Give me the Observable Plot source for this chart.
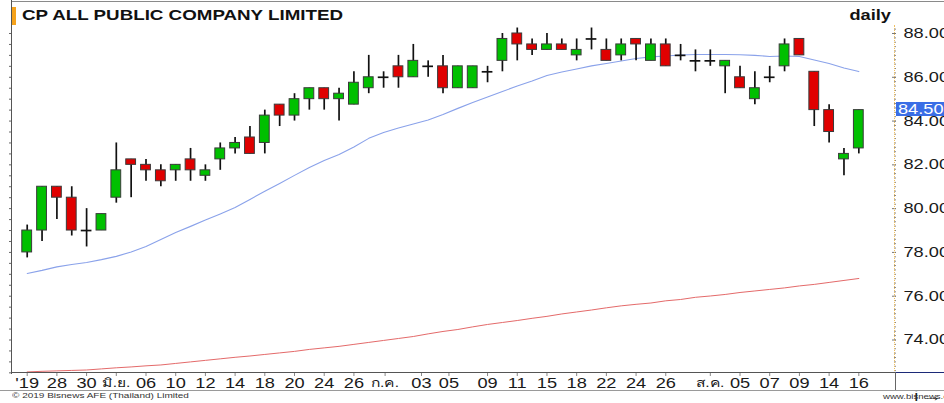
<!DOCTYPE html>
<html><head><meta charset="utf-8">
<script src="https://cdn.jsdelivr.net/npm/d3@7"></script>
<script src="https://cdn.jsdelivr.net/npm/@observablehq/plot@0.6"></script>
<style>
body{margin:0;background:#fff;}
#wrap{position:relative;width:944px;height:403px;overflow:hidden;font-family:"Liberation Sans",Arial,sans-serif;}
#wrap svg{position:absolute;left:0;top:0;}
.ov{position:absolute;white-space:nowrap;line-height:1;}
.ln{position:absolute;}
</style></head><body><div id="wrap"></div>
<script>
// ---- data ----
const dates = ["2019-05-24","2019-05-27","2019-05-28","2019-05-29","2019-05-30","2019-05-31",
"2019-06-04","2019-06-05","2019-06-06","2019-06-07","2019-06-10","2019-06-11","2019-06-12","2019-06-13","2019-06-14",
"2019-06-17","2019-06-18","2019-06-19","2019-06-20","2019-06-21","2019-06-24","2019-06-25","2019-06-26","2019-06-27","2019-06-28",
"2019-07-01","2019-07-02","2019-07-03","2019-07-04","2019-07-05","2019-07-08","2019-07-09","2019-07-10","2019-07-11","2019-07-12",
"2019-07-15","2019-07-17","2019-07-18","2019-07-19","2019-07-22","2019-07-23","2019-07-24","2019-07-25","2019-07-26","2019-07-30","2019-07-31",
"2019-08-01","2019-08-02","2019-08-05","2019-08-06","2019-08-07","2019-08-08","2019-08-09","2019-08-13","2019-08-14","2019-08-15","2019-08-16"];
const open  = [78.0,79.0,81.0,80.5,79.0,79.0,80.5,82.25,82.0,81.75,81.75,82.25,81.5,82.25,82.75,83.25,83.0,84.75,84.25,85.0,85.5,85.0,84.75,85.5,86.0,86.5,86.0,86.5,86.5,85.5,85.5,86.25,86.75,88.0,87.5,87.25,87.5,87.0,87.75,87.25,87.0,87.75,86.75,87.5,87.0,86.75,86.75,86.5,86.0,85.0,86.0,86.5,87.75,86.25,84.5,82.25,82.75];
const high  = [79.25,81.0,81.0,81.0,80.0,79.75,83.0,82.25,82.25,82.0,82.0,82.75,82.0,83.0,83.25,83.75,84.5,84.75,85.25,85.5,85.5,85.5,86.25,87.0,86.25,87.0,87.5,86.75,87.0,86.5,86.5,86.5,88.0,88.25,87.75,88.0,87.75,87.75,88.25,87.75,87.75,87.75,87.75,87.75,87.5,87.25,87.25,86.75,86.5,86.25,86.5,87.75,87.75,86.25,84.75,82.75,84.5];
const low   = [77.75,78.5,79.5,78.75,78.25,79.0,80.25,80.5,81.25,81.0,81.25,81.25,81.25,81.75,82.5,82.5,82.5,83.75,84.0,84.5,84.5,84.0,84.75,85.25,85.5,85.5,86.0,86.0,85.25,85.5,85.5,85.75,86.25,86.75,87.0,87.25,87.25,86.75,87.25,86.75,86.75,86.75,86.75,86.5,86.75,86.25,86.5,85.25,85.5,84.75,85.75,86.25,87.0,83.75,83.0,81.5,82.5];
const close = [79.0,81.0,80.5,79.0,79.0,79.75,81.75,82.0,81.75,81.25,82.0,81.75,81.75,82.75,83.0,82.5,84.25,84.25,85.0,85.5,85.0,85.25,85.75,86.0,86.0,86.0,86.75,86.5,85.5,86.5,86.5,86.25,87.75,87.5,87.25,87.5,87.25,87.25,87.75,86.75,87.5,87.5,87.5,86.5,87.0,86.75,86.75,86.75,85.5,85.5,86.0,87.5,87.0,84.5,83.5,82.5,84.5];
const maShort = [77.04,77.18,77.34,77.45,77.54,77.67,77.82,78.02,78.27,78.59,78.91,79.19,79.48,79.76,80.05,80.42,80.79,81.15,81.52,81.88,82.20,82.47,82.82,83.21,83.48,83.68,83.87,84.05,84.30,84.58,84.85,85.10,85.35,85.60,85.83,86.08,86.24,86.38,86.52,86.63,86.74,86.86,86.93,86.97,87.02,87.04,87.04,87.04,87.03,87.00,86.95,86.97,86.95,86.79,86.63,86.42,86.26];
const maLong = [72.54,72.57,72.59,72.61,72.63,72.68,72.73,72.77,72.82,72.86,72.93,73.00,73.07,73.14,73.21,73.27,73.34,73.41,73.48,73.57,73.64,73.71,73.80,73.89,73.98,74.07,74.16,74.28,74.39,74.48,74.60,74.71,74.80,74.89,74.99,75.08,75.19,75.28,75.37,75.47,75.56,75.63,75.69,75.79,75.85,75.95,76.01,76.08,76.17,76.24,76.31,76.38,76.47,76.54,76.63,76.72,76.81];
const xTickPos    = [0,2,4,6,8,10,12,14,16,18,20,22,24.1,26.55,28.4,31,33,35,37,39,41,43,46,48,50,52,54,56];
const xTickLabels = ["'19","28","30","มิ.ย.","06","10","12","14","18","20","24","26","ก.ค.","03","05","09","11","15","18","22","24","26","ส.ค.","05","07","09","14","16"];
const yTicks = [74,76,78,80,82,84,86,88];
const lastPrice = 84.50;

// ---- build ----
const candles = dates.map((d,i)=>({i, date:d, open:open[i], high:high[i], low:low[i], close:close[i]}));
const ups = candles.filter(d=>d.close>d.open);
const downs = candles.filter(d=>d.close<d.open);
const dojis = candles.filter(d=>d.close===d.open);
const maS = maShort.map((v,i)=>({i,v}));
const maL = maLong.map((v,i)=>({i,v}));
const labelMap = new Map(xTickPos.map((p,k)=>[p,xTickLabels[k]]));
const leftMinor = d3.range(72.5, 88.4, 0.5);
const rightMinor = d3.range(72.6, 88.3, 0.2);

const chart = Plot.plot({
  width:944, height:403,
  marginLeft:12, marginRight:49, marginTop:25, marginBottom:30,
  style:{fontFamily:"Liberation Sans, Arial, sans-serif", background:"transparent", overflow:"visible", color:"#1a1a1a"},
  x:{domain:[-0.99,58.47], axis:null},
  y:{domain:[72.47,88.365], axis:null},
  marks:[
    Plot.line(maL,{x:"i",y:"v",stroke:"#e46a6a",strokeWidth:1}),
    Plot.line(maS,{x:"i",y:"v",stroke:"#8aa2ea",strokeWidth:1.1}),
    Plot.ruleX(candles,{x:"i",y1:"low",y2:"high",stroke:"#111",strokeWidth:1.7}),
    Plot.rect(ups,{x1:d=>d.i-0.33,x2:d=>d.i+0.33,y1:"open",y2:"close",fill:"#00c000",stroke:"#3a3a3a",strokeWidth:1}),
    Plot.rect(downs,{x1:d=>d.i-0.33,x2:d=>d.i+0.33,y1:"open",y2:"close",fill:"#e00000",stroke:"#3a3a3a",strokeWidth:1}),
    Plot.ruleY(dojis,{y:"close",x1:d=>d.i-0.36,x2:d=>d.i+0.36,stroke:"#111",strokeWidth:1.7}),
    Plot.axisY(leftMinor,{anchor:"left",tickSize:3,tickFormat:()=>"",stroke:"#666"}),
    Plot.axisY(rightMinor,{anchor:"right",tickSize:2,dx:-2,tickFormat:()=>"",stroke:"#888"}),
    Plot.axisY(yTicks,{anchor:"right",tickSize:4,dx:-4,tickPadding:8,tickFormat:d=>d.toFixed(2),fontSize:14,stroke:"#777",fill:"#1a1a1a"}),
    Plot.axisX(xTickPos,{anchor:"bottom",tickSize:3,tickPadding:2,tickFormat:d=>labelMap.get(d),fontSize:14,stroke:"#888",fill:"#1a1a1a"})
  ]
});

const wrap = document.getElementById("wrap");
wrap.appendChild(chart);

// stretch text horizontally like the reference rendering (via textLength)
chart.querySelectorAll("text").forEach(t=>{
  const s = t.textContent;
  if (!s) return;
  let k = 1.3;
  if (/[\u0E00-\u0E7F]/.test(s)) { t.setAttribute("font-size", "12"); t.style.fontSize = "12px"; k = 1.3; }
  const w = t.getComputedTextLength();
  if (w > 0) {
    t.setAttribute("textLength", (w*k).toFixed(2));
    t.setAttribute("lengthAdjust","spacingAndGlyphs");
  }
});

function addLine(css){ const d=document.createElement("div"); d.className="ln"; Object.assign(d.style, css); wrap.appendChild(d); }
function addText(txt, css){ const d=document.createElement("div"); d.className="ov"; d.textContent=txt; Object.assign(d.style, css); wrap.appendChild(d); return d; }

// frame lines
addLine({left:"12px",top:"1px",width:"932px",height:"0",borderTop:"1px solid #8a8a8a"});
addLine({left:"11px",top:"0px",width:"0",height:"374px",borderLeft:"1px solid #555"});
addLine({left:"12px",top:"7px",width:"4px",height:"18px",background:"#f5a21b"});
addLine({left:"894px",top:"25px",width:"0",height:"348px",borderLeft:"1px dotted #f0c060"});
addLine({left:"11px",top:"372px",width:"884px",height:"0",borderTop:"1.5px solid #555"});
addLine({left:"895px",top:"372px",width:"49px",height:"0",borderTop:"1.5px solid #1c2a78"});
addLine({left:"895px",top:"372px",width:"0",height:"19px",borderLeft:"1px solid #666"});
addLine({left:"0px",top:"390px",width:"944px",height:"0",borderTop:"1px solid #9a9a9a"});

// texts
addText("CP ALL PUBLIC COMPANY LIMITED",{left:"22px",top:"8px",fontSize:"14px",fontWeight:"bold",color:"#111",transform:"scaleX(1.34)",transformOrigin:"0 0"});
addText("daily",{right:"53px",top:"8px",fontSize:"14px",fontWeight:"bold",color:"#111",transform:"scaleX(1.3)",transformOrigin:"100% 0"});
addText("© 2019 Bisnews AFE (Thailand) Limited",{left:"12px",top:"392px",fontSize:"8px",color:"#333",transform:"scaleX(1.25)",transformOrigin:"0 0"});
addText("www.bisnews.com",{left:"883px",top:"393px",fontSize:"8px",color:"#333",transform:"scaleX(1.2)",transformOrigin:"0 0"});

// last price box
const yLast = chart.scale("y").apply(lastPrice);
const box = addText("",{left:"896px",top:(yLast-8)+"px",width:"48px",height:"14px",background:"#3a6ee6",color:"#fff",fontSize:"14px",paddingLeft:"2px",boxSizing:"border-box"});
box.innerHTML = '<span style="display:inline-block;transform:scaleX(1.3);transform-origin:0 0">'+lastPrice.toFixed(2)+'</span>';
</script></body></html>
